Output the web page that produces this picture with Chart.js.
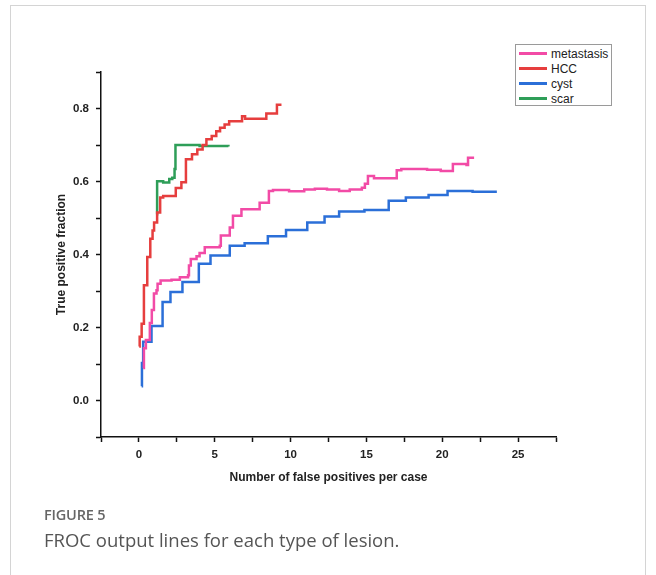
<!DOCTYPE html>
<html><head><meta charset="utf-8">
<script src="https://cdn.jsdelivr.net/npm/chart.js@4/dist/chart.umd.min.js"></script>
<style>
html,body{margin:0;padding:0;background:#fff;width:656px;height:575px;overflow:hidden;}
#frame{position:absolute;left:10px;top:5px;width:636px;height:620px;border:1px solid #d4d4d4;box-sizing:border-box;}
#wrap{position:absolute;left:0;top:0;width:656px;height:575px;}
#legend{position:absolute;left:515px;top:44px;width:97px;height:62px;border:1px solid #9a9a9a;box-sizing:border-box;background:#fff;font-family:"Liberation Sans",Arial,sans-serif;font-size:12px;color:#222;padding-top:1px;}
.row{display:flex;align-items:center;height:15px;}
.sw{width:28px;height:3px;margin-left:3px;margin-right:4px;}
#fig{position:absolute;left:44px;top:505px;font-family:"Open Sans",sans-serif;font-weight:600;font-size:14.5px;color:#666;letter-spacing:-0.2px;}
#cap{position:absolute;left:44px;top:527px;font-family:"Open Sans",sans-serif;font-weight:400;font-size:18.5px;color:#555;}
</style></head>
<body>
<div id="frame"></div>
<div id="wrap"><canvas id="c" width="656" height="575"></canvas></div>
<div id="legend"></div>
<div id="fig">FIGURE 5</div>
<div id="cap">FROC output lines for each type of lesion.</div>
<script>
// ---- data ----
const seriesNames = ['metastasis', 'HCC', 'cyst', 'scar'];
const seriesColors = ['#f24ba6', '#e63e3e', '#2b6fd8', '#2e9e58'];

const metastasisFP  = [0.28, 0.33, 0.46, 0.72, 0.85, 0.99, 1.16, 1.23, 1.43, 2.15, 2.7, 3.24, 3.3, 3.42, 3.8, 4.0, 4.34, 5.33, 5.4, 5.99, 6.2, 6.76, 7.96, 8.57, 8.84, 9.9, 10.9, 11.6, 12.4, 13.2, 13.9, 14.7, 14.9, 15.1, 15.5, 17.0, 17.3, 19.0, 19.9, 20.7, 21.6, 21.7, 22.1];
const metastasisTPF = [0.089, 0.143, 0.166, 0.212, 0.248, 0.293, 0.302, 0.32, 0.329, 0.331, 0.338, 0.343, 0.37, 0.388, 0.395, 0.404, 0.42, 0.424, 0.452, 0.474, 0.506, 0.524, 0.542, 0.574, 0.577, 0.573, 0.578, 0.58, 0.578, 0.574, 0.578, 0.583, 0.594, 0.615, 0.609, 0.631, 0.634, 0.632, 0.629, 0.648, 0.645, 0.665, 0.665];

const hccFP  = [0.02, 0.05, 0.18, 0.33, 0.55, 0.75, 0.9, 1.0, 1.2, 1.4, 1.6, 2.43, 2.8, 3.1, 3.5, 3.85, 4.2, 4.45, 4.8, 5.1, 5.35, 5.65, 5.95, 6.8, 7.0, 8.4, 9.1, 9.4];
const hccTPF = [0.148, 0.175, 0.21, 0.316, 0.393, 0.443, 0.466, 0.488, 0.515, 0.556, 0.56, 0.582, 0.598, 0.661, 0.675, 0.688, 0.70, 0.716, 0.725, 0.738, 0.747, 0.756, 0.765, 0.779, 0.772, 0.786, 0.81, 0.81];

const cystFP  = [0.18, 0.2, 0.28, 0.83, 1.56, 2.08, 2.87, 3.95, 4.72, 5.99, 6.97, 8.5, 9.7, 11.1, 12.24, 13.2, 14.87, 16.47, 17.6, 19.1, 20.35, 22.0, 23.6];
const cystTPF = [0.039, 0.103, 0.161, 0.204, 0.27, 0.297, 0.325, 0.375, 0.397, 0.424, 0.431, 0.45, 0.467, 0.488, 0.504, 0.518, 0.522, 0.547, 0.556, 0.563, 0.574, 0.572, 0.572];

const scarFP  = [1.14, 1.2, 1.6, 2.0, 2.2, 2.35, 2.41, 3.5, 4.0, 5.9];
const scarTPF = [0.51, 0.601, 0.597, 0.607, 0.61, 0.634, 0.70, 0.70, 0.697, 0.696];

const xTitle = 'Number of false positives per case';
const yTitle = 'True positive fraction';
const xMin = -2.5, xMax = 27.5, xMinorStep = 2.5, xMajorStep = 5;
const yMin = -0.1, yMax = 0.9, yMinorStep = 0.1;

// ---- build ----
const fpList = [metastasisFP, hccFP, cystFP, scarFP];
const tpfList = [metastasisTPF, hccTPF, cystTPF, scarTPF];

const datasets = seriesNames.map((name, i) => ({
  label: name,
  data: fpList[i].map((x, j) => ({x: x, y: tpfList[i][j]})),
  borderColor: seriesColors[i],
  backgroundColor: seriesColors[i],
  borderWidth: 2.5,
  pointRadius: 0,
  stepped: true,
  fill: false,
  tension: 0
}));

// HTML legend from the series arrays
const lg = document.getElementById('legend');
seriesNames.forEach((name, i) => {
  const r = document.createElement('div'); r.className = 'row';
  const s = document.createElement('span'); s.className = 'sw'; s.style.background = seriesColors[i];
  const t = document.createElement('span'); t.textContent = name;
  r.appendChild(s); r.appendChild(t); lg.appendChild(r);
});

const tickFont = {family: '"Liberation Sans", Arial, sans-serif', size: 11.5, weight: 'bold'};
const titleFont = {family: '"Liberation Sans", Arial, sans-serif', size: 12, weight: 'bold'};

new Chart(document.getElementById('c'), {
  type: 'line',
  data: {datasets: datasets},
  options: {
    responsive: false,
    animation: false,
    devicePixelRatio: 1,
    layout: {padding: {top: 72, right: 100, left: 0, bottom: 0}},
    plugins: {legend: {display: false}, tooltip: {enabled: false}},
    scales: {
      x: {
        type: 'linear', min: xMin, max: xMax,
        afterFit: s => { s.height = 138; },
        grid: {display: true, drawOnChartArea: false, drawTicks: true, tickLength: 5, tickWidth: 1.5, tickColor: '#111'},
        border: {display: true, color: '#111', width: 1.5},
        ticks: {
          stepSize: xMinorStep, autoSkip: false, maxRotation: 0, padding: 6,
          color: '#222', font: tickFont,
          callback: v => (Math.abs(v / xMajorStep - Math.round(v / xMajorStep)) < 1e-6 ? String(v) : '')
        },
        title: {display: true, text: xTitle, color: '#222', font: titleFont, padding: {top: 0, bottom: 90}}
      },
      y: {
        type: 'linear', min: yMin, max: yMax,
        afterFit: s => { s.width = 101; },
        grid: {display: true, drawOnChartArea: false, drawTicks: true, tickLength: 5, tickWidth: 1.5, tickColor: '#111'},
        border: {display: true, color: '#111', width: 1.5},
        ticks: {
          stepSize: yMinorStep, autoSkip: false, padding: 7,
          color: '#222', font: tickFont,
          callback: v => { const k = Math.round(v * 10); return (k % 2 === 0 && k >= 0 && k <= 8) ? (k / 10).toFixed(1) : ''; }
        },
        title: {display: true, text: yTitle, color: '#222', font: titleFont, padding: {top: 54, bottom: 0}}
      }
    }
  }
});
</script>
</body></html>
